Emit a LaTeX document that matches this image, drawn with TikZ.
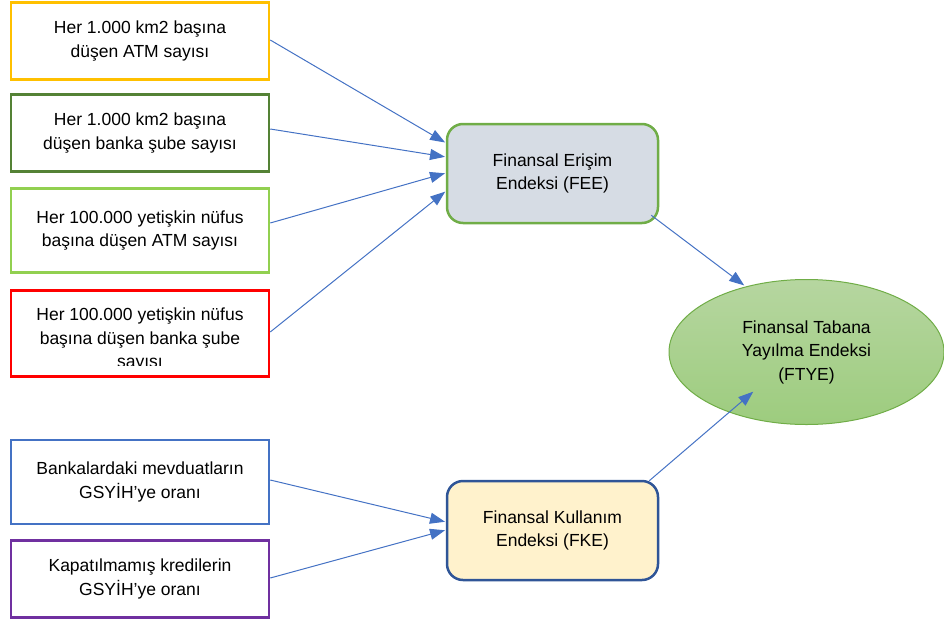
\documentclass[tikz,border=0pt]{standalone}
\usepackage{fontspec}
\setmainfont{Liberation Sans}
\usetikzlibrary{arrows.meta,shapes.geometric}
\definecolor{cyel}{HTML}{FFC000}
\definecolor{cdgreen}{HTML}{548235}
\definecolor{clgreen}{HTML}{92D050}
\definecolor{cred}{HTML}{FF0000}
\definecolor{cblue}{HTML}{4472C4}
\definecolor{cpurple}{HTML}{7030A0}
\definecolor{cmid}{HTML}{70AD47}
\definecolor{cfee}{HTML}{D6DCE4}
\definecolor{cfke}{HTML}{FFF2CC}
\definecolor{cfkeb}{HTML}{2F5597}
\definecolor{celltop}{HTML}{B6D6A0}
\definecolor{cellbot}{HTML}{9DCC7E}
\newcommand{\apo}{\symbol{39}}
\tikzset{
  txt/.style={align=center, font=\fontsize{17.5}{23.5}\selectfont, text=black},
  inbox/.style={draw, line width=2.5pt, minimum width=258pt, txt},
  midbox/.style={draw, line width=2.5pt, rounded corners=16pt, minimum width=211pt, minimum height=99pt, txt},
  conn/.style={draw=cblue, line width=1pt, -{Triangle[length=15pt,width=11pt]}, shorten >=1pt}
}
\begin{document}
\begin{tikzpicture}[x=1pt,y=-1pt]
\useasboundingbox (0,0) rectangle (944,621);
\node[inbox, draw=cyel, minimum height=77pt] (b1) at (140,41) {Her 1.000 km2 başına\\düşen ATM sayısı};
\node[inbox, draw=cdgreen, minimum height=77pt] (b2) at (140,133) {Her 1.000 km2 başına\\düşen banka şube sayısı};
\node[inbox, draw=clgreen, minimum height=84pt] (b3) at (140,230.5) {Her 100.000 yetişkin nüfus\\başına düşen ATM sayısı};
\node[inbox, draw=cred, minimum height=86pt] (b4) at (140,333.5) {};
\begin{scope}
\clip (12,292) rectangle (268,365);
\node[txt] (b4t) at (140,339.5) {Her 100.000 yetişkin nüfus\\başına düşen banka şube\\sayısı};
\end{scope}
\node[inbox, draw=cblue, minimum height=84pt] (b5) at (140,482) {Bankalardaki mevduatların\\GSYİH\apo ye oranı};
\node[inbox, draw=cpurple, minimum height=77pt] (b6) at (140,579) {Kapatılmamış kredilerin\\GSYİH\apo ye oranı};
\node[midbox, draw=cmid, fill=cfee] (fee) at (552.5,173.5) {Finansal Erişim\\Endeksi (FEE)};
\node[midbox, draw=cfkeb, fill=cfke] (fke) at (552.5,530.5) {Finansal Kullanım\\Endeksi (FKE)};
\node[ellipse, draw=cmid, line width=1pt, top color=celltop, bottom color=cellbot, minimum width=275pt, minimum height=145pt, txt] (ftye) at (806.5,352) {Finansal Tabana\\Yayılma Endeksi\\(FTYE)};
\coordinate (f1) at (446,143);
\coordinate (f2) at (446,157);
\coordinate (f3) at (446,173);
\coordinate (f4) at (446,191);
\coordinate (k1) at (446,522);
\coordinate (k2) at (446,530);
\draw[conn] (b1.east |- 0,40) -- (f1);
\draw[conn] (b2.east |- 0,129) -- (f2);
\draw[conn] (b3.east |- 0,223) -- (f3);
\draw[conn] (b4.east |- 0,332) -- (f4);
\draw[conn] (b5.east |- 0,480) -- (k1);
\draw[conn] (b6.east |- 0,578) -- (k2);
\draw[conn] (fee.south east) ++(-8,-9) coordinate (fs) -- (745,286);
\draw[conn] (fke.north east) ++(-10,1) coordinate (ks) -- (754,391);
\end{tikzpicture}
\end{document}
